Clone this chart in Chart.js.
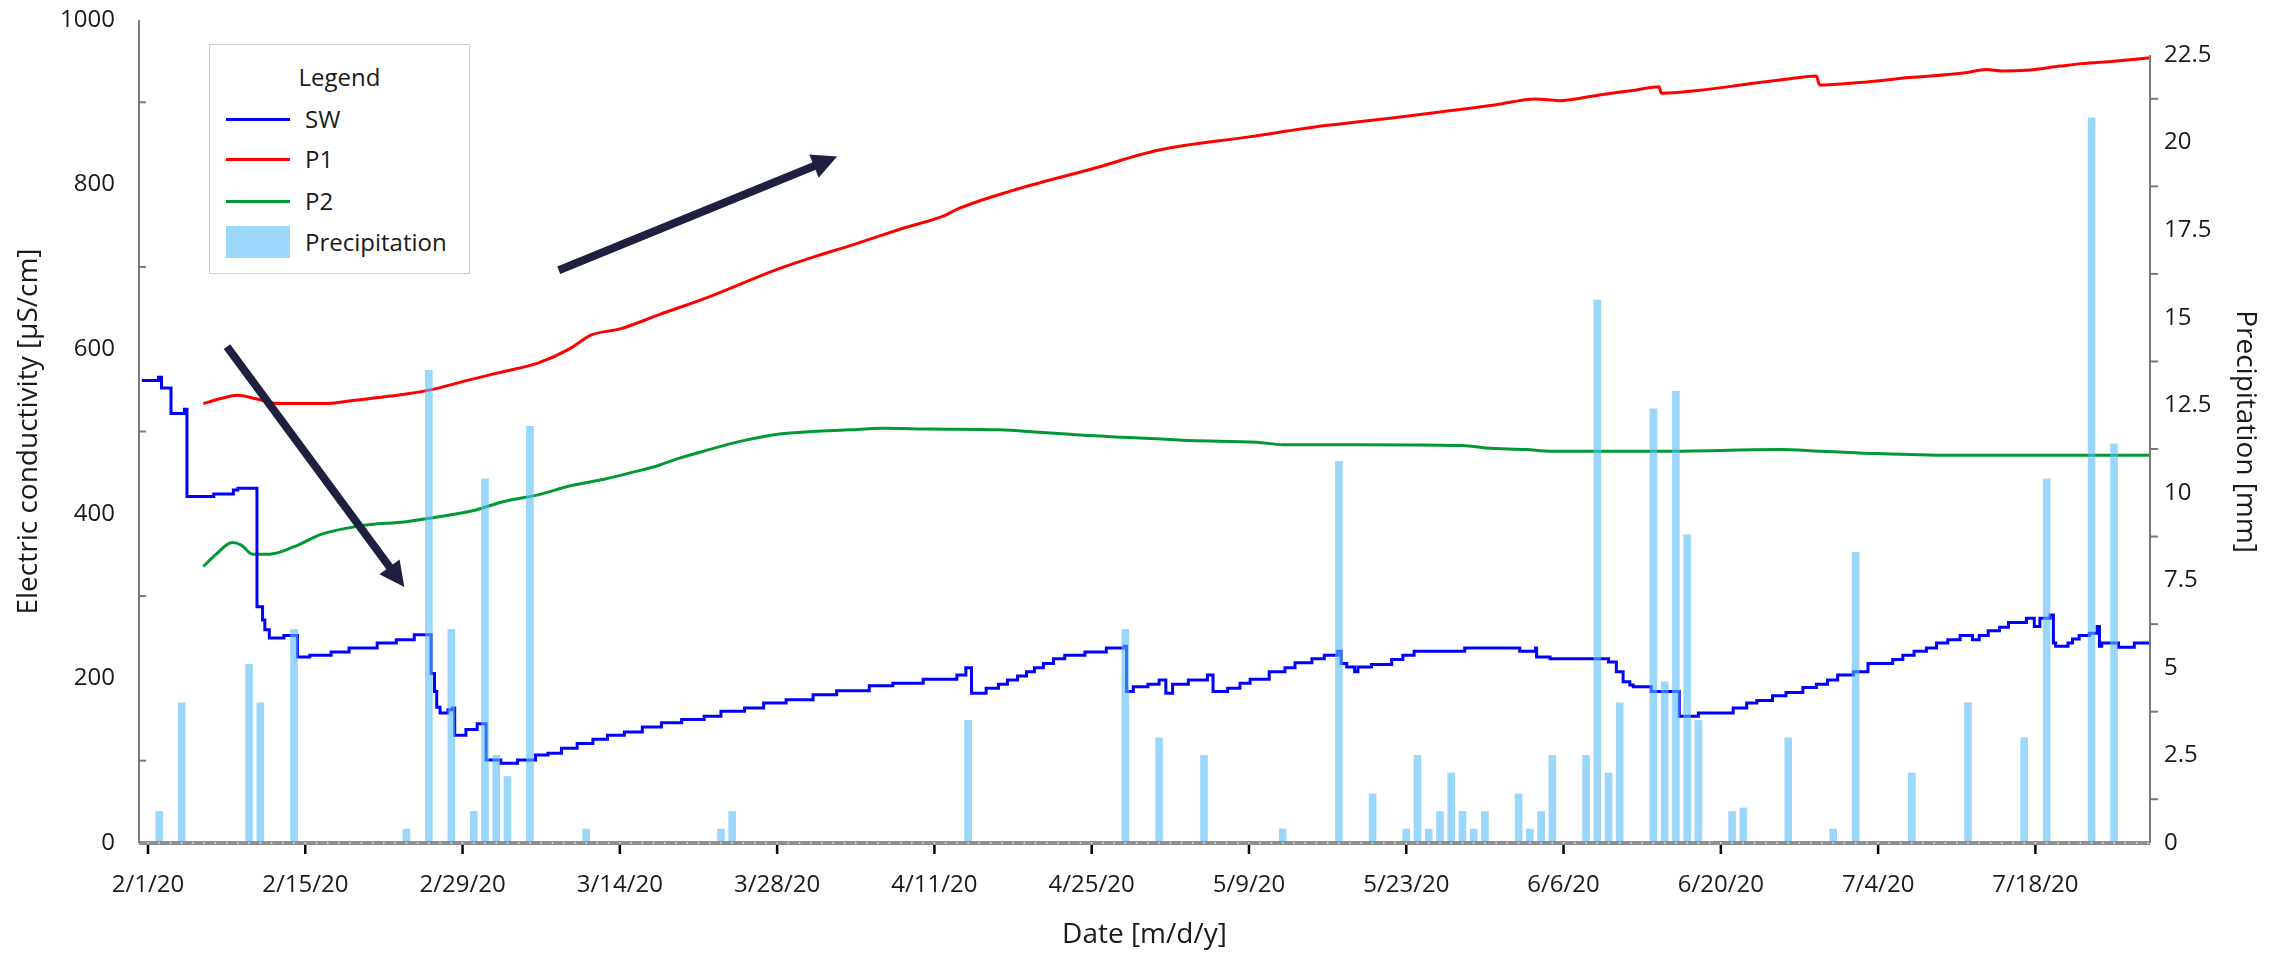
<!DOCTYPE html>
<html><head><meta charset="utf-8">
<script src="https://cdn.jsdelivr.net/npm/chart.js@4.4.1/dist/chart.umd.min.js"></script>
<style>
html,body{margin:0;padding:0;background:#fff;}
#wrap{position:relative;width:2276px;height:954px;font-family:'Open Sans',sans-serif;color:#1a1a1a;}
canvas{display:block;}
#legend{position:absolute;left:209px;top:44px;width:259px;height:228px;border:1.5px solid #cfcfcf;background:#fff;}
#legend .ttl{position:absolute;left:0;width:100%;top:16px;text-align:center;font-size:24px;line-height:32px;}
#legend .it{position:absolute;left:16px;height:32px;}
#legend .it .sym{position:absolute;left:0;width:64px;}
#legend .it .lab{position:absolute;left:79px;top:0;font-size:24px;line-height:32px;white-space:nowrap;}
</style></head><body>
<div id="wrap"><canvas id="c" width="2276" height="954"></canvas><div id="legend"></div></div>
<script>
// ---------- data ----------
const xTickLabels = ['2/1/20','2/15/20','2/29/20','3/14/20','3/28/20','4/11/20','4/25/20','5/9/20','5/23/20','6/6/20','6/20/20','7/4/20','7/18/20'];
const yTicks  = [0,200,400,600,800,1000];
const y2Ticks = [0,2.5,5,7.5,10,12.5,15,17.5,20,22.5];

// days since 2/1/20
const swDays = [-0.55,0.93,1.2,2.05,3.24,3.47,5.85,7.6,8.0,9.7,10.2,10.4,10.8,12.1,13.3,14.4,16.3,17.9,20.4,22.1,23.7,25.2,25.5,25.7,26.0,26.7,27.1,27.3,28.3,29.3,30.1,31.4,32.9,34.5,35.6,36.8,38.2,39.6,40.9,42.4,44.0,45.7,47.5,49.5,51.0,53.1,54.8,56.8,59.2,61.3,64.2,66.3,69.0,72.0,72.8,73.3,74.6,75.7,76.5,77.4,78.2,78.9,79.7,80.6,81.6,83.4,85.3,86.9,87.1,87.7,89.0,90.0,90.6,91.2,92.6,94.3,94.8,96.1,97.2,98.1,99.8,101.2,102.1,103.6,104.7,105.9,106.2,106.7,107.4,107.7,108.9,110.7,111.7,112.7,117.2,122.1,123.5,123.6,124.8,130.0,130.7,131.3,131.9,132.2,133.8,136.3,138.0,141.1,142.3,143.2,144.6,145.8,147.3,148.5,149.5,150.4,151.8,153.1,155.3,156.2,157.2,158.3,159.2,160.2,161.3,162.4,163.0,163.8,164.8,165.6,167.2,167.9,168.4,169.3,169.6,169.8,170.9,171.3,171.9,172.8,173.5,173.7,173.9,175.4,176.8,178.2];
const swValues = [562,566,553,522,527,421,424,429,431,287,271,259,249,252,226,228,232,237,243,247,253,206,184,165,158,162,164,131,138,145,101,97,101,107,109,115,121,126,131,135,141,146,150,154,160,164,170,174,180,185,191,194,199,204,213,182,188,193,198,203,208,213,218,224,228,232,237,239,184,190,193,198,182,193,198,204,184,188,194,199,208,213,219,224,228,233,218,214,208,214,217,223,228,233,237,233,237,226,224,220,208,196,192,190,184,154,158,164,170,173,179,183,189,193,198,204,208,218,223,228,233,237,243,247,252,247,252,258,262,268,273,263,273,277,243,239,243,248,252,255,263,239,243,238,243,243];

const p1Days = [4.93,6.5,8.0,9.5,11.5,14,16,18.4,21.6,24.9,28.7,31.7,34.7,37.6,38.8,39.4,42.1,45.5,50,56,59,63,67,71,72,77,84,90,98,105,112,116,120,123.5,125.6,129.2,132.5,134.5,134.7,139,142.3,145.8,148.5,148.8,152.3,156.8,161.8,163.6,165.1,167.2,170.2,172.1,175,178.2];
const p1Values = [534,540,544,540,534,534,534,538,543,550,563,573,583,601,612,617,625,642,664,697,711,728,746,763,770,793,819,842,858,872,883,890,897,904,902,909,915,919,911,916,922,928,932,921,924,930,936,940,938,939,944,947,950,954];

const p2Days = [4.93,6.0,7.5,8.3,9.3,10.8,13.0,15.4,17.5,19.8,22.8,25.2,28.7,31.7,34.7,37.6,40.6,43.0,45.5,46.7,49.7,52.7,56.2,59.2,62.5,65.4,69.6,75.8,79.4,81.7,83.8,86.8,90.2,92.7,98.7,101,107.6,117,119.1,122.7,124.8,134.7,145.2,148.8,152.3,160.4,164.8,178.2];
const p2Values = [336,350,365,362,351,351,360,375,382,387,390,395,403,415,423,434,442,450,459,465,477,488,497,500,502,504,503,502,499,497,495,493,491,489,487,484,484,483,480,478,476,476,478,476,474,471,471,471];

const precipDates = ['2/2/20','2/4/20','2/10/20','2/11/20','2/14/20','2/24/20','2/26/20','2/28/20','3/1/20','3/2/20','3/3/20','3/4/20','3/6/20','3/11/20','3/23/20','3/24/20','4/14/20','4/28/20','5/1/20','5/5/20','5/12/20','5/17/20','5/20/20','5/23/20','5/24/20','5/25/20','5/26/20','5/27/20','5/28/20','5/29/20','5/30/20','6/2/20','6/3/20','6/4/20','6/5/20','6/8/20','6/9/20','6/10/20','6/11/20','6/14/20','6/15/20','6/16/20','6/17/20','6/18/20','6/21/20','6/22/20','6/26/20','6/30/20','7/2/20','7/7/20','7/12/20','7/17/20','7/19/20','7/23/20','7/25/20'];
const precipValues = [0.9,4.0,5.1,4.0,6.1,0.4,13.5,6.1,0.9,10.4,2.5,1.9,11.9,0.4,0.4,0.9,3.5,6.1,3.0,2.5,0.4,10.9,1.4,0.4,2.5,0.4,0.9,2.0,0.9,0.4,0.9,1.4,0.4,0.9,2.5,2.5,15.5,2.0,4.0,12.4,4.6,12.9,8.8,3.5,0.9,1.0,3.0,0.4,8.3,2.0,4.0,3.0,10.4,20.7,11.4];

// annotation arrows (data coordinates: day, EC value)
const arrowStarts = [[7.03,603],[36.56,696]];
const arrowEnds   = [[22.82,311],[61.34,834]];

// ---------- helpers ----------
const DAY0 = Date.UTC(2020,1,1);
function dayOf(s){const [m,d,y]=s.split('/').map(Number);return Math.round((Date.UTC(2000+y,m-1,d)-DAY0)/86400000);}
function labelOf(day){const dt=new Date(DAY0+Math.round(day)*86400000);return (dt.getUTCMonth()+1)+'/'+dt.getUTCDate()+'/'+String(dt.getUTCFullYear()).slice(2);}
const pts=(xs,ys)=>xs.map((x,i)=>({x:x,y:ys[i]}));
const xTickDays = xTickLabels.map(dayOf);

const FONT = "'Open Sans', sans-serif";
Chart.defaults.font.family = FONT;
Chart.defaults.font.size = 24;
Chart.defaults.color = '#1a1a1a';
const titleFont = {family:FONT, size:28};

const deco = {
  id:'deco',
  afterDatasetsDraw(chart){
    const {ctx, chartArea:a, scales} = chart;
    const x=scales.x, y=scales.y, y2=scales.y2;
    ctx.save();
    ctx.fillStyle='#8f8f8f';
    ctx.fillRect(a.left, a.bottom-2, a.right-a.left, 4);
    ctx.fillStyle='#d4d4d4';
    for(let d=Math.ceil(x.min); d<=Math.floor(x.max); d++){
      const px=x.getPixelForValue(d);
      ctx.fillRect(px-0.75, a.bottom-1, 1.5, 2);
    }
    ctx.fillStyle='#000';
    xTickDays.forEach(d=>{const px=x.getPixelForValue(d);ctx.fillRect(px-1.25,a.bottom+2,2.5,9);});
    ctx.strokeStyle='#7a7a7a'; ctx.lineWidth=2;
    ctx.beginPath(); ctx.moveTo(a.left, y.getPixelForValue(yTicks[yTicks.length-1])); ctx.lineTo(a.left, a.bottom); ctx.stroke();
    ctx.beginPath(); ctx.moveTo(a.right, y2.getPixelForValue(y2Ticks[y2Ticks.length-1])); ctx.lineTo(a.right, a.bottom); ctx.stroke();
    for(let i=0;i<yTicks.length-1;i++){
      const py=y.getPixelForValue((yTicks[i]+yTicks[i+1])/2);
      ctx.beginPath(); ctx.moveTo(a.left,py); ctx.lineTo(a.left+7,py); ctx.stroke();
    }
    for(let i=0;i<y2Ticks.length-1;i++){
      const py=y2.getPixelForValue((y2Ticks[i]+y2Ticks[i+1])/2);
      ctx.beginPath(); ctx.moveTo(a.right,py); ctx.lineTo(a.right+8,py); ctx.stroke();
    }
    ctx.fillStyle='#1f2040'; ctx.strokeStyle='#1f2040'; ctx.lineWidth=8; ctx.lineCap='butt';
    arrowStarts.forEach((s,i)=>{
      const e=arrowEnds[i];
      const sx=x.getPixelForValue(s[0]), sy=y.getPixelForValue(s[1]);
      const ex=x.getPixelForValue(e[0]), ey=y.getPixelForValue(e[1]);
      const L=Math.hypot(ex-sx,ey-sy), ux=(ex-sx)/L, uy=(ey-sy)/L, nx=-uy, ny=ux;
      const hl=25, hw=12.5;
      ctx.beginPath(); ctx.moveTo(sx,sy); ctx.lineTo(ex-ux*hl*0.8, ey-uy*hl*0.8); ctx.stroke();
      ctx.beginPath(); ctx.moveTo(ex,ey);
      ctx.lineTo(ex-ux*hl+nx*hw, ey-uy*hl+ny*hw);
      ctx.lineTo(ex-ux*hl-nx*hw, ey-uy*hl-ny*hw);
      ctx.closePath(); ctx.fill();
    });
    ctx.restore();
  }
};

const noPadV = s=>{s.paddingTop=0; s.paddingBottom=0;};

const chart = new Chart(document.getElementById('c'), {
  type:'line',
  data:{datasets:[
    {label:'SW', data:pts(swDays,swValues), borderColor:'#0000ff', borderWidth:3, pointRadius:0, stepped:true, yAxisID:'y', order:1},
    {label:'P1', data:pts(p1Days,p1Values), borderColor:'#ff0000', borderWidth:3, pointRadius:0, cubicInterpolationMode:'monotone', yAxisID:'y', order:1},
    {label:'P2', data:pts(p2Days,p2Values), borderColor:'#009933', borderWidth:3, pointRadius:0, cubicInterpolationMode:'monotone', yAxisID:'y', order:1},
    {type:'bar', label:'Precipitation', data:pts(precipDates.map(dayOf),precipValues), backgroundColor:'rgba(88,188,247,0.6)', borderWidth:0, barThickness:7, yAxisID:'y2', order:0}
  ]},
  options:{
    responsive:false, animation:false, events:[],
    layout:{padding:{top:20,left:0,right:0,bottom:0}},
    plugins:{legend:{display:false}, tooltip:{enabled:false}},
    scales:{
      x:{type:'linear', min:-0.8, max:178.2, offset:false,
         grid:{display:false, drawTicks:false, offset:false}, border:{display:false},
         afterBuildTicks:s=>{s.ticks=xTickDays.map(v=>({value:v}));},
         afterFit:s=>{s.height=111; s.paddingLeft=0; s.paddingRight=0;},
         ticks:{padding:28, maxRotation:0, autoSkip:false, callback:v=>labelOf(v)},
         title:{display:true, text:'Date [m/d/y]', font:titleFont, padding:{top:0,bottom:2}}},
      y:{type:'linear', position:'left', min:0, max:1000,
         grid:{display:false, drawTicks:false}, border:{display:false},
         afterBuildTicks:s=>{s.ticks=yTicks.map(v=>({value:v}));},
         afterFit:s=>{s.width=139; noPadV(s);},
         ticks:{padding:24, callback:v=>String(v)},
         title:{display:true, text:'Electric conductivity [µS/cm]', font:titleFont, padding:{top:12,bottom:0}}},
      y2:{type:'linear', position:'right', min:0, max:23.5,
         grid:{display:false, drawTicks:false}, border:{display:false},
         afterBuildTicks:s=>{s.ticks=y2Ticks.map(v=>({value:v}));},
         afterFit:s=>{s.width=126; noPadV(s);},
         ticks:{padding:14, callback:v=>String(v)},
         title:{display:true, text:'Precipitation [mm]', font:titleFont, padding:{top:14,bottom:0}}}
    }
  },
  plugins:[deco]
});

(function(){
  const lg=document.getElementById('legend');
  const t=document.createElement('div'); t.className='ttl'; t.textContent='Legend'; lg.appendChild(t);
  const tops=[58,98,140,181];
  chart.data.datasets.forEach((ds,i)=>{
    const it=document.createElement('div'); it.className='it'; it.style.top=tops[i]+'px';
    const sym=document.createElement('div'); sym.className='sym';
    if(ds.type==='bar'){sym.style.top='0px';sym.style.height='32px';sym.style.background=ds.backgroundColor;}
    else {sym.style.top='14.5px';sym.style.height='3px';sym.style.background=ds.borderColor;}
    const lab=document.createElement('div'); lab.className='lab'; lab.textContent=ds.label;
    it.appendChild(sym); it.appendChild(lab); lg.appendChild(it);
  });
})();
</script>
</body></html>
